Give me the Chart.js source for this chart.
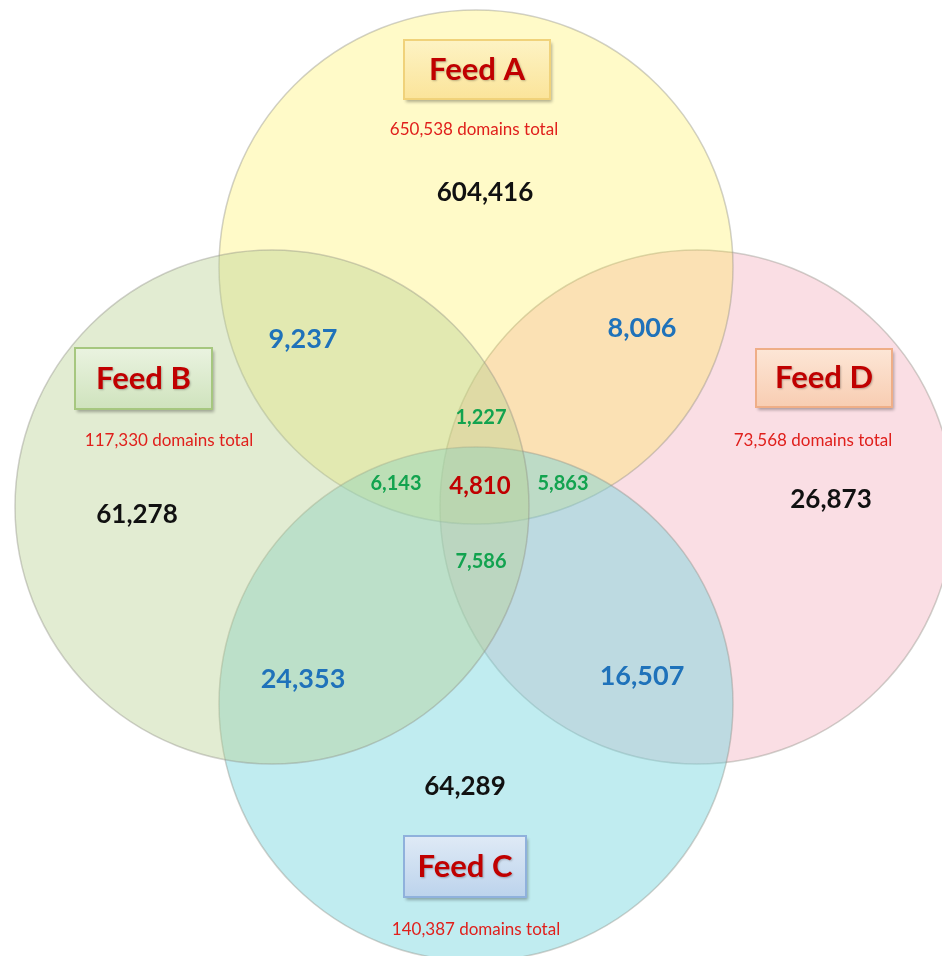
<!DOCTYPE html>
<html>
<head>
<meta charset="utf-8">
<script src="https://cdn.jsdelivr.net/npm/chart.js@4"></script>
<style>
  body { margin: 0; background: #fff; }
  #wrap { width: 942px; height: 956px; }
</style>
</head>
<body>
<div id="wrap"><canvas id="chart" width="942" height="956"></canvas></div>
<script>
// feeds and totals
const feeds = ["Feed A", "Feed B", "Feed C", "Feed D"];
const totals = ["650,538", "117,330", "140,387", "73,568"];

// region counts (which feeds overlap -> count)
const regionSets = ["A", "B", "C", "D", "AB", "AD", "BC", "CD", "ABD", "ABC", "ACD", "BCD", "ABCD"];
const regionValues = [604416, 61278, 64289, 26873, 9237, 8006, 24353, 16507, 1227, 6143, 5863, 7586, 4810];

// layout (pixel units on the x/y scales)
const R = 257;
const circlePos = { A: [476, 267], B: [272, 507], C: [476, 704], D: [697, 507] };
const circleFill = {
  A: "rgba(255,235,35,0.25)",
  B: "rgba(183,208,143,0.4)",
  C: "rgba(115,213,222,0.45)",
  D: "rgba(243,173,188,0.4)",
};
const regionPos = {
  A: [485, 193], B: [137, 515], C: [465, 787], D: [831, 500],
  AB: [303, 339], AD: [642, 328], BC: [303, 679], CD: [642, 676],
  ABD: [481, 418], ABC: [396, 484], ACD: [563, 484], BCD: [481, 562], ABCD: [480, 486],
};
const boxes = {
  A: { x: 404, y: 40, w: 146, h: 59, top: "#fdf3c4", bot: "#fbe49a", line: "#f0d27a", tot: [474, 130] },
  B: { x: 75, y: 348, w: 137, h: 61, top: "#eaf3e0", bot: "#cfe3bd", line: "#a6c77f", tot: [169, 441] },
  D: { x: 756, y: 349, w: 136, h: 58, top: "#fde6d6", bot: "#f8cdb2", line: "#efae87", tot: [813, 441] },
  C: { x: 404, y: 836, w: 122, h: 61, top: "#dfeaf6", bot: "#bcd3ec", line: "#8fb1dc", tot: [476, 930] },
};

function regionColor(key) {
  if (key.length === 4) return "#c00000";
  if (key.length === 3) return "#12a34f";
  if (key.length === 2) return "#1f72ba";
  return "#111111";
}
function regionSize(key) {
  if (key.length === 4) return 24;
  if (key.length === 3) return 20;
  if (key.length === 2) return 27;
  return 26;
}
function fmt(v) { return v.toLocaleString("en-US"); }

// circle radius in pixels, taken from the x scale
function radiusPx(ctx) {
  const s = ctx.chart.scales.x;
  const v = s ? Math.abs(s.getPixelForValue(R) - s.getPixelForValue(0)) : NaN;
  return isFinite(v) && v > 0 ? v : R;
}

// drawing order: B, C, A, D
const order = ["B", "C", "A", "D"];
const datasets = order.map((k) => ({
  label: feeds["ABCD".indexOf(k)],
  data: [{ x: circlePos[k][0], y: circlePos[k][1] }],
  backgroundColor: circleFill[k],
  borderColor: "rgba(140,140,130,0.4)",
  borderWidth: 1.5,
  pointRadius: radiusPx,
  pointHoverRadius: radiusPx,
  clip: false,
}));

const labelPlugin = {
  id: "vennLabels",
  afterDatasetsDraw(chart) {
    const c = chart.ctx;
    const xs = chart.scales.x, ys = chart.scales.y;
    const px = (p) => [xs.getPixelForValue(p[0]), ys.getPixelForValue(p[1])];
    c.save();
    c.textAlign = "center";
    c.textBaseline = "middle";

    regionSets.forEach((key, i) => {
      const [x, y] = px(regionPos[key]);
      c.font = "bold " + regionSize(key) + "px Lato, 'Open Sans', sans-serif";
      c.fillStyle = regionColor(key);
      c.fillText(fmt(regionValues[i]), x, y);
    });

    "ABCD".split("").forEach((k, i) => {
      const b = boxes[k];
      const [x0, y0] = px([b.x, b.y]);
      const [x1, y1] = px([b.x + b.w, b.y + b.h]);
      c.save();
      c.shadowColor = "rgba(0,0,0,0.3)";
      c.shadowOffsetX = 2;
      c.shadowOffsetY = 3;
      c.shadowBlur = 3;
      const g = c.createLinearGradient(0, y0, 0, y1);
      g.addColorStop(0, b.top);
      g.addColorStop(1, b.bot);
      c.fillStyle = g;
      c.fillRect(x0, y0, x1 - x0, y1 - y0);
      c.restore();
      c.strokeStyle = b.line;
      c.lineWidth = 2;
      c.strokeRect(x0, y0, x1 - x0, y1 - y0);

      c.save();
      c.font = "bold 31px Lato, 'Open Sans', sans-serif";
      c.shadowColor = "rgba(0,0,0,0.25)";
      c.shadowOffsetX = 1;
      c.shadowOffsetY = 1;
      c.shadowBlur = 2;
      c.fillStyle = "#c00000";
      c.fillText(feeds[i], (x0 + x1) / 2, (y0 + y1) / 2);
      c.restore();

      const [tx, ty] = px(b.tot);
      c.font = "17px Lato, 'Open Sans', sans-serif";
      c.fillStyle = "#e0201c";
      c.fillText(totals[i] + " domains total", tx, ty);
    });
    c.restore();
  },
};

new Chart(document.getElementById("chart"), {
  type: "scatter",
  data: { datasets: datasets },
  options: {
    responsive: false,
    animation: false,
    events: [],
    layout: { autoPadding: false, padding: 0 },
    plugins: { legend: { display: false }, tooltip: { enabled: false } },
    scales: {
      x: { type: "linear", min: 0, max: 942, display: false },
      y: { type: "linear", min: 0, max: 956, reverse: true, display: false },
    },
  },
  plugins: [labelPlugin],
});
</script>
</body>
</html>
